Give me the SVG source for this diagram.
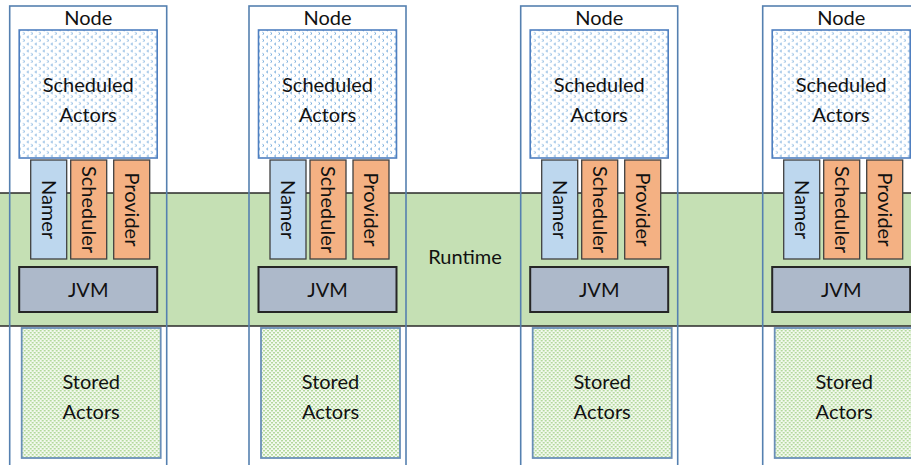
<svg xmlns="http://www.w3.org/2000/svg" width="911" height="465" viewBox="0 0 911 465">
  <defs>
    <pattern id="schedPat" x="0" y="0" width="8" height="7" patternUnits="userSpaceOnUse">
      <rect width="8" height="7" fill="#ffffff"/>
      <path d="M3,0.8 L1.5,2 L3,3.2" fill="none" stroke="#5b9bd5" stroke-width="0.9"/>
      <path d="M5.5,4.3 L7,5.5 L5.5,6.7" fill="none" stroke="#5b9bd5" stroke-width="0.9"/>
    </pattern>
    <pattern id="storedPat" x="0" y="0" width="4" height="4" patternUnits="userSpaceOnUse">
      <rect width="4" height="4" fill="#f3f9ef"/>
      <rect x="0" y="0" width="2" height="1.5" fill="#b3d99c"/>
      <rect x="2" y="2" width="2" height="1.5" fill="#b3d99c"/>
    </pattern>
  </defs>
  <style>
    .txt { font-family: Lato, "Open Sans", "Liberation Sans", sans-serif; font-size: 20px; fill: #111111; text-anchor: middle; }
    .outer { fill: none; stroke: #5580b0; stroke-width: 1.6; }
    .sched { fill: url(#schedPat); stroke: #4f7fc0; stroke-width: 1.6; }
    .stored { fill: url(#storedPat); stroke: #6a8fb8; stroke-width: 1.8; }
    .namer { fill: #bdd7ee; stroke: #404040; stroke-width: 1.3; }
    .orange { fill: #f4b183; stroke: #404040; stroke-width: 1.3; }
    .jvm { fill: #adb9ca; stroke: #262626; stroke-width: 2; }
    .band { fill: #c5e0b4; }
    .bandline { stroke: #2a2a2a; stroke-width: 1.6; }
  </style>

  <g id="runtime">
    <rect class="band" x="0" y="193" width="911" height="133"/>
    <line class="bandline" x1="0" y1="193" x2="911" y2="193"/>
    <line class="bandline" x1="0" y1="326" x2="911" y2="326"/>
    <text class="txt" x="465" y="264">Runtime</text>
  </g>

  <g id="node1" transform="translate(9.7,0)">
    <rect class="outer" x="0" y="6" width="157" height="470"/>
    <text class="txt" x="78.5" y="25">Node</text>
    <rect class="sched" x="9.5" y="30" width="138" height="128"/>
    <text class="txt" x="78.5" y="92">Scheduled</text>
    <text class="txt" x="78.5" y="122">Actors</text>
    <rect class="namer" x="21" y="160" width="36" height="99"/>
    <text class="txt" transform="translate(39,209.5) rotate(90)" y="7">Namer</text>
    <rect class="orange" x="61" y="160" width="36" height="99"/>
    <text class="txt" transform="translate(79,209.5) rotate(90)" y="7">Scheduler</text>
    <rect class="orange" x="104" y="160" width="36" height="99"/>
    <text class="txt" transform="translate(122,209.5) rotate(90)" y="7">Provider</text>
    <rect class="jvm" x="9.5" y="267" width="138" height="45"/>
    <text class="txt" x="78.5" y="297">JVM</text>
    <rect class="stored" x="12" y="328" width="139" height="130"/>
    <text class="txt" x="81.5" y="389">Stored</text>
    <text class="txt" x="81.5" y="419">Actors</text>
  </g>

  <g id="node2" transform="translate(249,0)">
    <rect class="outer" x="0" y="6" width="157" height="470"/>
    <text class="txt" x="78.5" y="25">Node</text>
    <rect class="sched" x="9.5" y="30" width="138" height="128"/>
    <text class="txt" x="78.5" y="92">Scheduled</text>
    <text class="txt" x="78.5" y="122">Actors</text>
    <rect class="namer" x="21" y="160" width="36" height="99"/>
    <text class="txt" transform="translate(39,209.5) rotate(90)" y="7">Namer</text>
    <rect class="orange" x="61" y="160" width="36" height="99"/>
    <text class="txt" transform="translate(79,209.5) rotate(90)" y="7">Scheduler</text>
    <rect class="orange" x="104" y="160" width="36" height="99"/>
    <text class="txt" transform="translate(122,209.5) rotate(90)" y="7">Provider</text>
    <rect class="jvm" x="9.5" y="267" width="138" height="45"/>
    <text class="txt" x="78.5" y="297">JVM</text>
    <rect class="stored" x="12" y="328" width="139" height="130"/>
    <text class="txt" x="81.5" y="389">Stored</text>
    <text class="txt" x="81.5" y="419">Actors</text>
  </g>

  <g id="node3" transform="translate(520.7,0)">
    <rect class="outer" x="0" y="6" width="157" height="470"/>
    <text class="txt" x="78.5" y="25">Node</text>
    <rect class="sched" x="9.5" y="30" width="138" height="128"/>
    <text class="txt" x="78.5" y="92">Scheduled</text>
    <text class="txt" x="78.5" y="122">Actors</text>
    <rect class="namer" x="21" y="160" width="36" height="99"/>
    <text class="txt" transform="translate(39,209.5) rotate(90)" y="7">Namer</text>
    <rect class="orange" x="61" y="160" width="36" height="99"/>
    <text class="txt" transform="translate(79,209.5) rotate(90)" y="7">Scheduler</text>
    <rect class="orange" x="104" y="160" width="36" height="99"/>
    <text class="txt" transform="translate(122,209.5) rotate(90)" y="7">Provider</text>
    <rect class="jvm" x="9.5" y="267" width="138" height="45"/>
    <text class="txt" x="78.5" y="297">JVM</text>
    <rect class="stored" x="12" y="328" width="139" height="130"/>
    <text class="txt" x="81.5" y="389">Stored</text>
    <text class="txt" x="81.5" y="419">Actors</text>
  </g>

  <g id="node4" transform="translate(762.7,0)">
    <rect class="outer" x="0" y="6" width="157" height="470"/>
    <text class="txt" x="78.5" y="25">Node</text>
    <rect class="sched" x="9.5" y="30" width="138" height="128"/>
    <text class="txt" x="78.5" y="92">Scheduled</text>
    <text class="txt" x="78.5" y="122">Actors</text>
    <rect class="namer" x="21" y="160" width="36" height="99"/>
    <text class="txt" transform="translate(39,209.5) rotate(90)" y="7">Namer</text>
    <rect class="orange" x="61" y="160" width="36" height="99"/>
    <text class="txt" transform="translate(79,209.5) rotate(90)" y="7">Scheduler</text>
    <rect class="orange" x="104" y="160" width="36" height="99"/>
    <text class="txt" transform="translate(122,209.5) rotate(90)" y="7">Provider</text>
    <rect class="jvm" x="9.5" y="267" width="138" height="45"/>
    <text class="txt" x="78.5" y="297">JVM</text>
    <rect class="stored" x="12" y="328" width="139" height="130"/>
    <text class="txt" x="81.5" y="389">Stored</text>
    <text class="txt" x="81.5" y="419">Actors</text>
  </g>

  <g id="connectors"></g>
</svg>
